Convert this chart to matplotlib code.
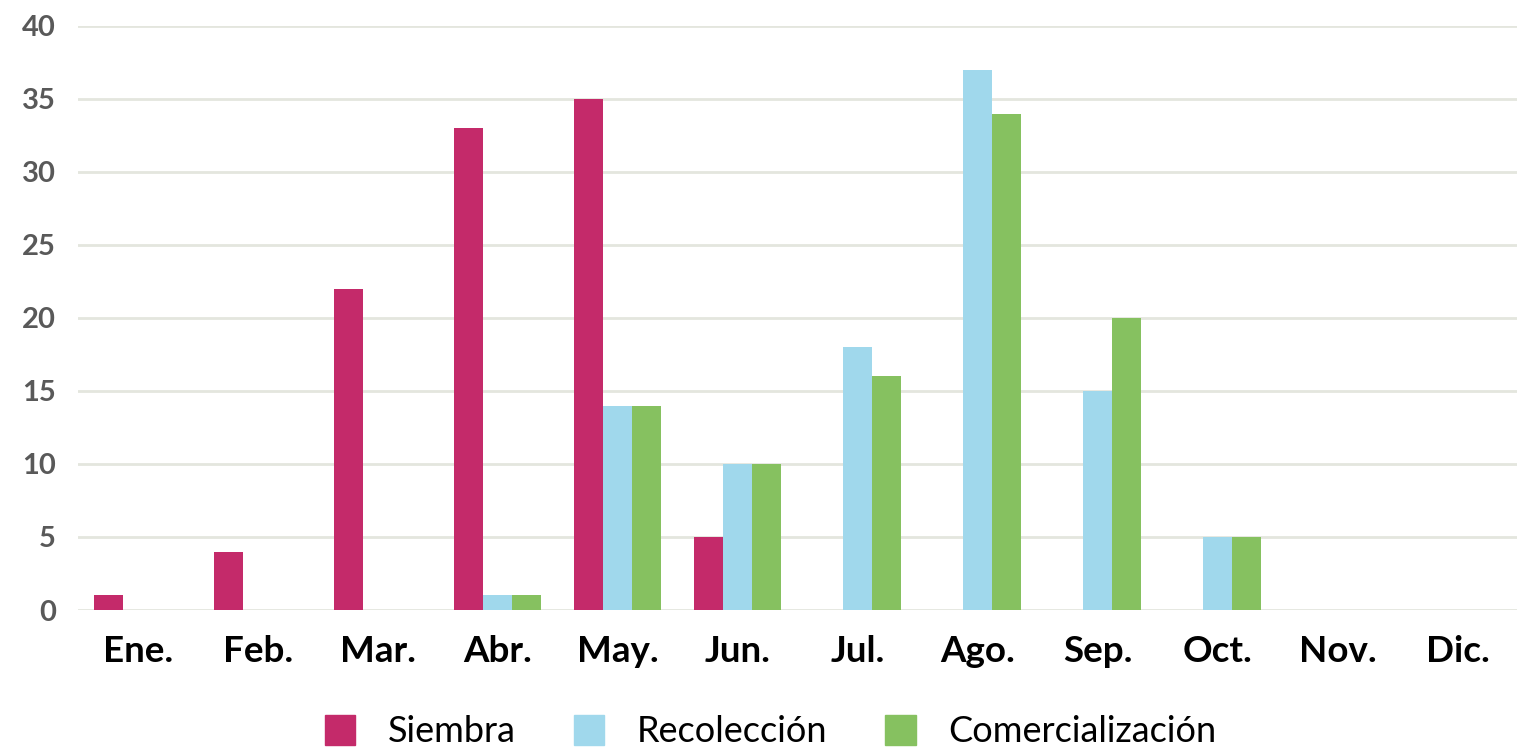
import numpy as np
import matplotlib.pyplot as plt
from matplotlib.patches import Patch

# Datos
meses = ["Ene.", "Feb.", "Mar.", "Abr.", "May.", "Jun.",
         "Jul.", "Ago.", "Sep.", "Oct.", "Nov.", "Dic."]
siembra = [1, 4, 22, 33, 35, 5, 0, 0, 0, 0, 0, 0]
recoleccion = [0, 0, 0, 1, 14, 10, 18, 37, 15, 5, 0, 0]
comercializacion = [0, 0, 0, 1, 14, 10, 16, 34, 20, 5, 0, 0]

series = ["Siembra", "Recolección", "Comercialización"]
colores = ["#C42A6A", "#A0D8EC", "#86C160"]

plt.rcParams['font.family'] = ['Lato', 'DejaVu Sans']

fig = plt.figure(figsize=(15.17, 7.47), dpi=100)
ax = fig.add_axes([0.0514, 0.1834, 0.949, 0.7818])

x = np.arange(len(meses))
w = 0.242
for i, (vals, col) in enumerate(zip([siembra, recoleccion, comercializacion], colores)):
    ax.bar(x + (i - 1) * w, vals, width=w, color=col, zorder=3)

ax.set_xlim(-0.5, 11.5)
ax.set_ylim(0, 40)
ax.set_yticks(range(0, 41, 5))
ax.set_xticks(x)
ax.set_xticklabels(meses, fontsize=26.5, fontweight='bold', color='black')
for lab in ax.get_yticklabels():
    lab.set_fontsize(21)
    lab.set_fontweight('bold')
    lab.set_color('#595959')
ax.tick_params(axis='x', length=0, pad=18)
ax.tick_params(axis='y', length=0, pad=16)
ax.grid(axis='y', color='#E4E6DE', linewidth=2, zorder=0)
for s in ax.spines.values():
    s.set_visible(False)

handles = [Patch(color=c, label=s) for s, c in zip(series, colores)]
fig.legend(handles=handles, loc='lower center', bbox_to_anchor=(0.508, -0.045),
           ncol=3, frameon=False, fontsize=26, handlelength=0.85,
           handleheight=0.9, handletextpad=0.9, columnspacing=1.6)

fig.savefig("out.png", dpi=100)
